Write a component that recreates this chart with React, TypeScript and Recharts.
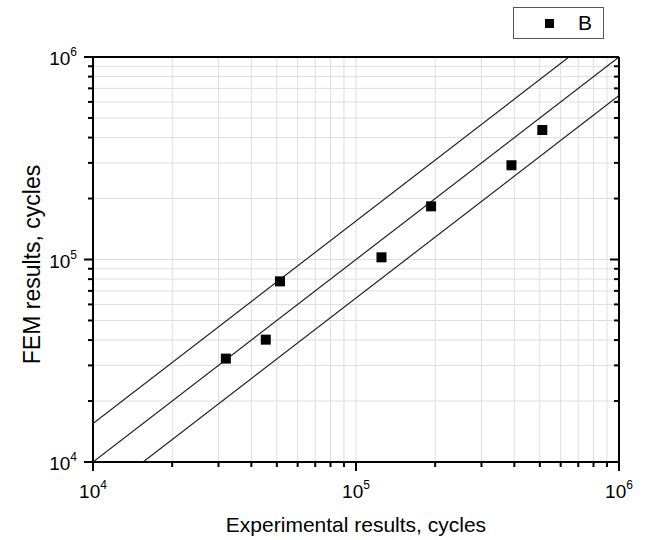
import { ScatterChart, Scatter, XAxis, YAxis, CartesianGrid, Legend } from "recharts";

// measured fatigue lives vs FEM prediction
const experimentalCycles = [32000, 45400, 51400, 125000, 193000, 390000, 511000];
const femCycles = [32400, 40200, 78000, 102500, 183000, 292000, 436000];

// scatter band: y = x, and y = x * factor / x / factor
const bandFactor = 1.55;
const axisMin = 1e4;
const axisMax = 1e6;

const logTicks = [
  10000, 20000, 30000, 40000, 50000, 60000, 70000, 80000, 90000,
  100000, 200000, 300000, 400000, 500000, 600000, 700000, 800000, 900000,
  1000000,
];

const points = experimentalCycles.map((x, i) => ({ x, y: femCycles[i] }));
const middleLine = [
  { x: axisMin, y: axisMin },
  { x: axisMax, y: axisMax },
];
const upperLine = [
  { x: axisMin, y: axisMin * bandFactor },
  { x: axisMax / bandFactor, y: axisMax },
];
const lowerLine = [
  { x: axisMin * bandFactor, y: axisMin },
  { x: axisMax, y: axisMax / bandFactor },
];

const FONT = "'Liberation Sans', Arial, sans-serif";

const isMajor = (v: number) => Math.abs(Math.log10(v) - Math.round(Math.log10(v))) < 1e-9;

const PowerLabel = ({ x, y, exp, anchor }: { x: number; y: number; exp: number; anchor: "middle" | "end" }) => (
  <text x={x} y={y} textAnchor={anchor} fontFamily={FONT} fontSize={19} fill="#000">
    <tspan>10</tspan>
    <tspan dy={-9} fontSize={12}>
      {exp}
    </tspan>
  </text>
);

const BottomTick = (props: any) => {
  const { x, y, payload } = props;
  const major = isMajor(payload.value);
  return (
    <g>
      <line x1={x} x2={x} y1={y} y2={y + (major ? 9 : 5)} stroke="#000" strokeWidth={2} />
      {major && <PowerLabel x={x} y={y + 36} exp={Math.round(Math.log10(payload.value))} anchor="middle" />}
    </g>
  );
};

const TopTick = (props: any) => {
  const { x, y, payload } = props;
  const major = isMajor(payload.value);
  return <line x1={x} x2={x} y1={y} y2={y + (major ? 9 : 5)} stroke="#000" strokeWidth={2} />;
};

const LeftTick = (props: any) => {
  const { x, y, payload } = props;
  const major = isMajor(payload.value);
  return (
    <g>
      <line x1={x} x2={x - (major ? 9 : 5)} y1={y} y2={y} stroke="#000" strokeWidth={2} />
      {major && <PowerLabel x={x - 16} y={y + 8} exp={Math.round(Math.log10(payload.value))} anchor="end" />}
    </g>
  );
};

const RightTick = (props: any) => {
  const { x, y, payload } = props;
  const major = isMajor(payload.value);
  return <line x1={x} x2={x - (major ? 9 : 5)} y1={y} y2={y} stroke="#000" strokeWidth={2} />;
};

const LegendBox = () => (
  <div
    style={{
      width: 89,
      height: 30,
      border: "1px solid #555",
      position: "relative",
      fontFamily: FONT,
      background: "#fff",
    }}
  >
    <div style={{ position: "absolute", left: 31, top: 11, width: 9, height: 9, background: "#000" }} />
    <div style={{ position: "absolute", left: 64, top: 4, fontSize: 21, lineHeight: "22px" }}>B</div>
  </div>
);

const frame = { stroke: "#000", strokeWidth: 2 };

export default function App() {
  return (
    <div style={{ position: "absolute", left: 0, top: 0, background: "#fff" }}>
      <ScatterChart width={646} height={540} margin={{ top: 47, right: 17, bottom: 8, left: 8 }}>
        <CartesianGrid xAxisId="bottom" yAxisId="left" stroke="#dedede" strokeWidth={1} />
        <XAxis
          xAxisId="bottom"
          type="number"
          dataKey="x"
          scale="log"
          domain={[axisMin, axisMax]}
          ticks={logTicks}
          interval={0}
          allowDataOverflow
          height={70}
          tickSize={0}
          tickMargin={0}
          tickLine={false}
          axisLine={frame}
          tick={BottomTick}
          label={{
            content: (p: any) => (
              <text
                x={p.viewBox.x + p.viewBox.width / 2}
                y={p.viewBox.y + 70}
                textAnchor="middle"
                fontFamily={FONT}
                fontSize={21}
                fill="#000"
              >
                Experimental results, cycles
              </text>
            ),
          }}
        />
        <XAxis
          xAxisId="top"
          orientation="top"
          type="number"
          scale="log"
          domain={[axisMin, axisMax]}
          ticks={logTicks}
          interval={0}
          allowDataOverflow
          height={10}
          tickSize={0}
          tickMargin={0}
          tickLine={false}
          axisLine={frame}
          tick={TopTick}
        />
        <YAxis
          yAxisId="left"
          type="number"
          dataKey="y"
          scale="log"
          domain={[axisMin, axisMax]}
          ticks={logTicks}
          interval={0}
          allowDataOverflow
          width={85}
          tickSize={0}
          tickMargin={0}
          tickLine={false}
          axisLine={frame}
          tick={LeftTick}
          label={{
            content: (p: any) => {
              const cx = p.viewBox.x + 24;
              const cy = p.viewBox.y + p.viewBox.height / 2 + 5;
              return (
                <text
                  x={cx}
                  y={cy}
                  transform={`rotate(-90 ${cx} ${cy})`}
                  textAnchor="middle"
                  dominantBaseline="central"
                  fontFamily={FONT}
                  fontSize={23}
                  fill="#000"
                >
                  FEM results, cycles
                </text>
              );
            },
          }}
        />
        <YAxis
          yAxisId="right"
          orientation="right"
          type="number"
          scale="log"
          domain={[axisMin, axisMax]}
          ticks={logTicks}
          interval={0}
          allowDataOverflow
          width={10}
          tickSize={0}
          tickMargin={0}
          tickLine={false}
          axisLine={frame}
          tick={RightTick}
        />
        <Legend
          layout="horizontal"
          verticalAlign="middle"
          align="center"
          content={LegendBox}
          wrapperStyle={{ left: 513, top: 7, width: 91, height: 32 }}
        />
        <Scatter
          xAxisId="bottom"
          yAxisId="left"
          data={upperLine}
          line={{ stroke: "#222", strokeWidth: 1.2 }}
          shape={() => <g />}
          legendType="none"
          isAnimationActive={false}
        />
        <Scatter
          xAxisId="bottom"
          yAxisId="left"
          data={middleLine}
          line={{ stroke: "#222", strokeWidth: 1.2 }}
          shape={() => <g />}
          legendType="none"
          isAnimationActive={false}
        />
        <Scatter
          xAxisId="bottom"
          yAxisId="left"
          data={lowerLine}
          line={{ stroke: "#222", strokeWidth: 1.2 }}
          shape={() => <g />}
          legendType="none"
          isAnimationActive={false}
        />
        <Scatter
          name="B"
          xAxisId="bottom"
          yAxisId="left"
          data={points}
          fill="#000"
          shape={(p: any) => <rect x={p.cx - 5} y={p.cy - 5} width={10} height={10} fill="#000" />}
          isAnimationActive={false}
        />
      </ScatterChart>
    </div>
  );
}
